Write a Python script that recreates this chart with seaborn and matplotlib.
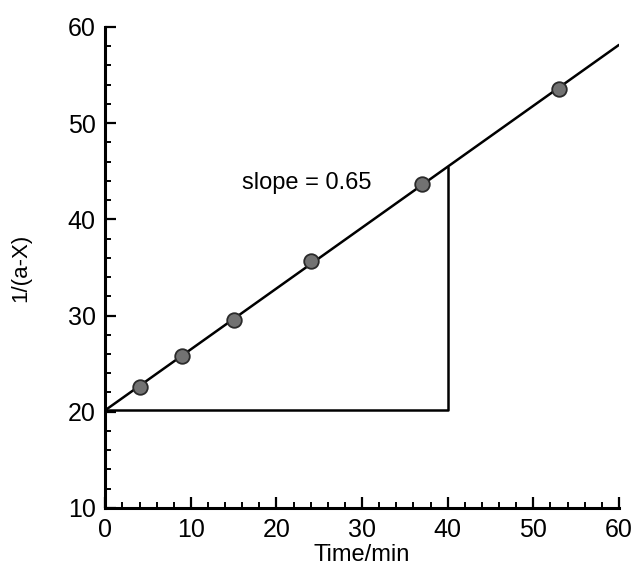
import numpy as np
import pandas as pd
import matplotlib
matplotlib.use("Agg")
import matplotlib.pyplot as plt
import seaborn as sns
from matplotlib.ticker import MultipleLocator

# data
time_min = [4, 9, 15, 24, 37, 53]
inv_conc = [22.6, 25.8, 29.5, 35.7, 43.7, 53.5]
slope_label = "slope = 0.65"
x_ticks = [0, 10, 20, 30, 40, 50, 60]
y_ticks = [10, 20, 30, 40, 50, 60]
triangle_x = [0, 40]

df = pd.DataFrame({"Time/min": time_min, "1/(a-X)": inv_conc})

sns.set_style("ticks")
plt.rcParams["font.family"] = ["Liberation Sans", "DejaVu Sans"]
plt.rcParams["text.color"] = "black"
plt.rcParams["axes.labelcolor"] = "black"

fig = plt.figure(figsize=(6.42, 5.72), dpi=100)
ax = fig.add_axes([0.164, 0.112, 0.800, 0.841])

# fitted straight line over the whole time range
slope, intercept = np.polyfit(time_min, inv_conc, 1)
x_line = np.array([x_ticks[0], x_ticks[-1]])
ax.plot(x_line, intercept + slope * x_line, color="black", lw=1.8, zorder=2)

# slope triangle
tx0, tx1 = triangle_x
y0 = intercept + slope * tx0
y1 = intercept + slope * tx1
ax.plot([tx0, tx1, tx1], [y0, y0, y1], color="black", lw=1.8, zorder=2)

sns.scatterplot(data=df, x="Time/min", y="1/(a-X)", ax=ax, s=110,
                color="#727272", edgecolor="#2a2a2a", linewidth=1.3, zorder=3)

ax.text(23.5, 43.8, slope_label, fontsize=17, ha="center", va="center")

ax.set_xlim(x_ticks[0], x_ticks[-1])
ax.set_ylim(y_ticks[0], y_ticks[-1])
ax.set_xticks(x_ticks)
ax.set_yticks(y_ticks)
ax.xaxis.set_minor_locator(MultipleLocator(2))
ax.yaxis.set_minor_locator(MultipleLocator(2))
ax.tick_params(which="major", direction="in", length=8, width=1.6,
               labelsize=18, pad=7, colors="black")
ax.tick_params(which="minor", direction="in", length=4, width=1.4,
               colors="black")

sns.despine(ax=ax)
for side in ["left", "bottom"]:
    ax.spines[side].set_linewidth(2.2)
    ax.spines[side].set_color("black")

ax.set_xlabel("Time/min", fontsize=17, labelpad=2)
ax.set_ylabel("1/(a-X)", fontsize=16, labelpad=26)

fig.savefig("out.png", dpi=100)
